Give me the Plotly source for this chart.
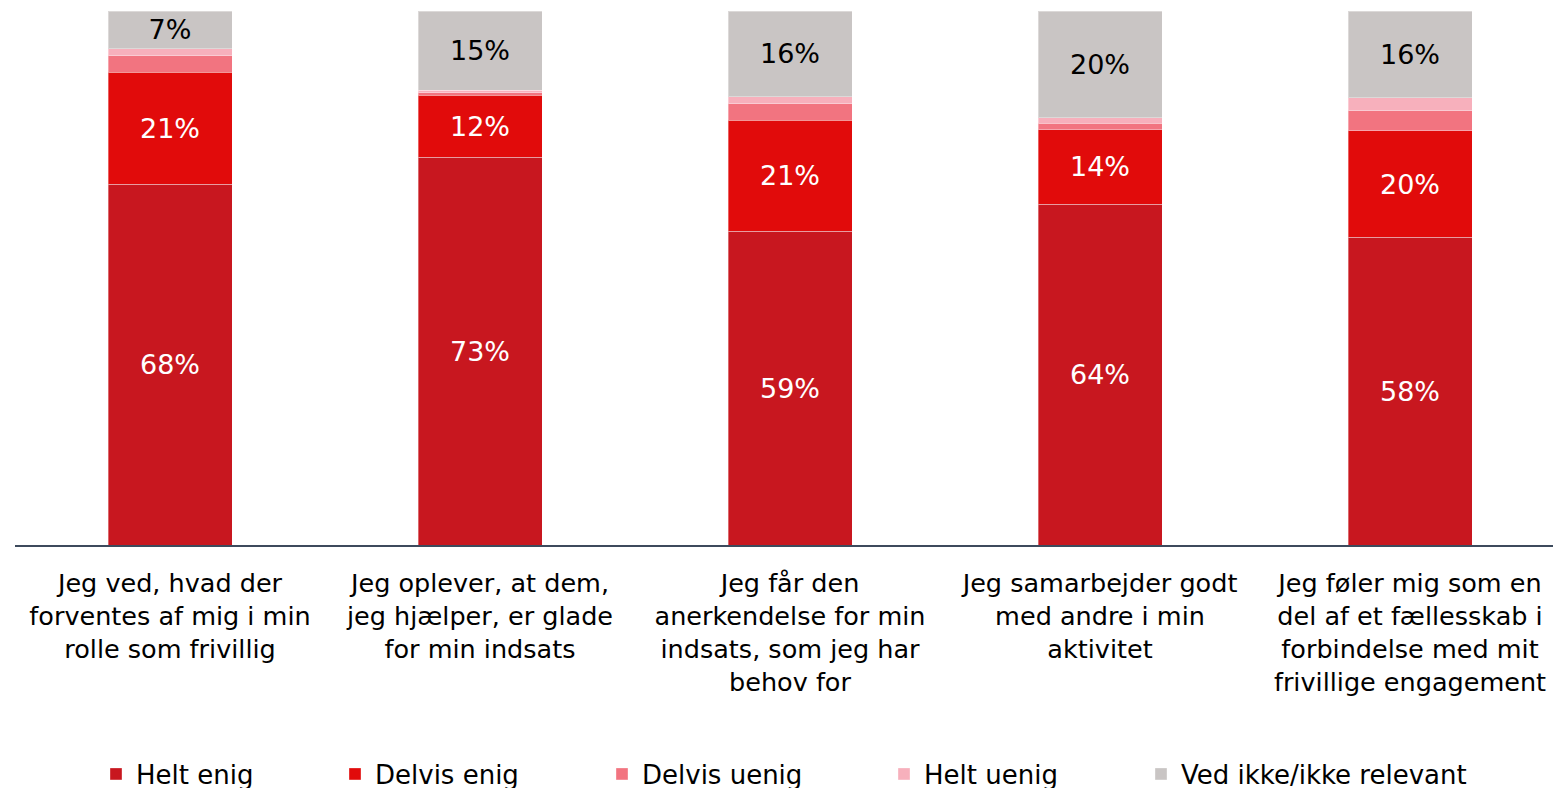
import plotly.graph_objects as go

categories = [
    "Jeg ved, hvad der<br>forventes af mig i min<br>rolle som frivillig",
    "Jeg oplever, at dem,<br>jeg hjælper, er glade<br>for min indsats",
    "Jeg får den<br>anerkendelse for min<br>indsats, som jeg har<br>behov for",
    "Jeg samarbejder godt<br>med andre i min<br>aktivitet",
    "Jeg føler mig som en<br>del af et fællesskab i<br>forbindelse med mit<br>frivillige engagement",
]
series_names = ["Helt enig", "Delvis enig", "Delvis uenig", "Helt uenig", "Ved ikke/ikke relevant"]
helt_enig = [67.6, 72.6, 58.8, 63.8, 57.6]
delvis_enig = [20.9, 11.6, 20.7, 14.0, 20.0]
delvis_uenig = [3.1, 0.5, 3.1, 1.2, 3.7]
helt_uenig = [1.3, 0.5, 1.3, 1.0, 2.5]
ved_ikke = [7.1, 14.8, 16.1, 20.0, 16.2]

colors = ["#C8171F", "#E10B0B", "#F27480", "#F7B0BC", "#C9C5C4"]
series = [helt_enig, delvis_enig, delvis_uenig, helt_uenig, ved_ikke]
show_text = [True, True, False, False, True]
text_colors = ["white", "white", "black", "black", "black"]

FONT = "DejaVu Sans"
W = 1553
H = 800  # page viewport is 788 tall; the lower legend half is clipped like the reference
L, R, T = 15, 0, 11
plot_h = 534
B = H - T - plot_h
plot_w = W - L - R
legend_marker_px = [115, 354, 621, 903, 1160]  # marker centres
legend_center_y = 774

fig = go.Figure()
for i, (name, vals) in enumerate(zip(series_names, series)):
    lg = "legend" if i == 0 else f"legend{i+1}"
    fig.add_trace(go.Bar(
        x=categories, y=vals, name=name,
        marker=dict(color=colors[i], line=dict(color="rgba(255,255,255,0.35)", width=1)),
        text=[f"{v:.0f}%" for v in vals] if show_text[i] else None,
        textposition="inside" if show_text[i] else "none",
        insidetextanchor="middle",
        constraintext="none",
        textfont=dict(family=FONT, size=27, color=text_colors[i]),
        legend=lg,
        width=0.4,
    ))

layout_legends = {}
for i, px in enumerate(legend_marker_px):
    key = "legend" if i == 0 else f"legend{i+1}"
    left = px - 19
    layout_legends[key] = dict(
        x=(left - L) / plot_w,
        y=(T + plot_h - legend_center_y) / plot_h,
        xanchor="left", yanchor="middle",
        orientation="h",
        font=dict(family=FONT, size=26, color="black"),
        bgcolor="rgba(0,0,0,0)",
        itemclick=False,
    )

fig.update_layout(
    width=W, height=H,
    margin=dict(l=L, r=R, t=T, b=B, pad=0),
    barmode="stack",
    plot_bgcolor="white", paper_bgcolor="white",
    showlegend=True,
    xaxis=dict(
        type="category", range=[-0.5, -0.5 + plot_w / 310],
        showgrid=False, ticks="", showline=True, linecolor="#3D4A5C", linewidth=2,
        tickfont=dict(family=FONT, size=25.5, color="black"),
        ticklabelstandoff=14,
    ),
    yaxis=dict(range=[0, 100], visible=False, showgrid=False),
    **layout_legends,
)

fig.write_html(
    "out.html",
    config={"displayModeBar": False},
    post_script="document.body.style.margin='0';document.body.style.overflow='hidden';",
)
